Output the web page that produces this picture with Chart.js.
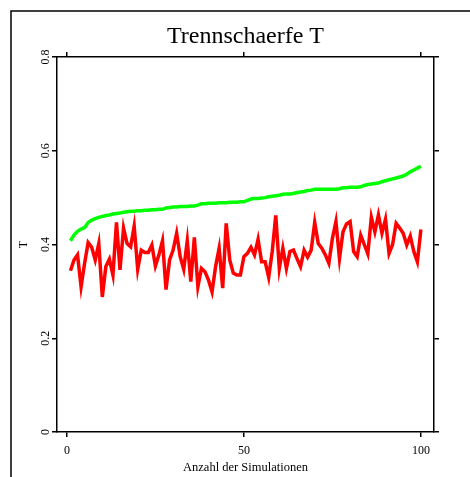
<!DOCTYPE html>
<html>
<head>
<meta charset="utf-8">
<script src="https://cdn.jsdelivr.net/npm/chart.js@4"></script>
<style>
  body{margin:0;background:#fff;}
  #wrap{width:470px;height:477px;}
</style>
</head>
<body>
<div id="wrap"><canvas id="myChart" width="470" height="477"></canvas></div>
<script>
// run index 1..100
var runs=Array.from({length:100},function(_,i){return i+1;});

// upper (green) series
var greenT=[0.408,0.420,0.428,0.433,0.436,0.447,0.452,0.455,0.458,0.460,
  0.462,0.463,0.465,0.466,0.467,0.469,0.470,0.471,0.471,0.472,
  0.472,0.473,0.473,0.474,0.474,0.475,0.475,0.478,0.479,0.480,
  0.480,0.481,0.481,0.481,0.482,0.482,0.484,0.487,0.487,0.488,
  0.488,0.488,0.489,0.489,0.489,0.490,0.490,0.490,0.491,0.491,
  0.494,0.497,0.498,0.498,0.499,0.500,0.502,0.503,0.504,0.505,
  0.507,0.508,0.508,0.509,0.511,0.512,0.513,0.515,0.516,0.518,
  0.518,0.518,0.518,0.518,0.518,0.518,0.519,0.521,0.521,0.522,
  0.522,0.522,0.523,0.526,0.528,0.529,0.530,0.531,0.534,0.536,
  0.538,0.540,0.542,0.544,0.546,0.550,0.555,0.559,0.563,0.567];

// lower (red) series
var redT=[0.344,0.367,0.378,0.310,0.360,0.404,0.394,0.367,0.402,0.288,
  0.353,0.369,0.335,0.447,0.346,0.435,0.402,0.395,0.439,0.347,
  0.388,0.383,0.383,0.399,0.354,0.378,0.408,0.304,0.367,0.388,
  0.424,0.374,0.347,0.408,0.321,0.415,0.310,0.349,0.342,0.324,
  0.299,0.353,0.392,0.307,0.445,0.367,0.339,0.335,0.335,0.374,
  0.381,0.394,0.378,0.411,0.363,0.363,0.330,0.385,0.462,0.349,
  0.392,0.349,0.385,0.388,0.370,0.353,0.388,0.373,0.388,0.447,
  0.402,0.392,0.378,0.360,0.413,0.449,0.370,0.427,0.444,0.449,
  0.385,0.374,0.420,0.400,0.380,0.458,0.427,0.463,0.424,0.454,
  0.381,0.400,0.445,0.435,0.424,0.399,0.418,0.385,0.363,0.432];

var xTicks=[0,50,100];
var yTicks=[0,0.2,0.4,0.6,0.8];
var yTickLabels=['0','0.2','0.4','0.6','0.8'];

var serif="'Liberation Serif', 'Times New Roman', serif";

// outer frame (only left and top edges are inside the window)
var outerFrame={
  id:'outerFrame',
  beforeDraw:function(chart){
    var c=chart.ctx;
    c.save();
    c.strokeStyle='#000';
    c.lineWidth=1.5;
    c.beginPath();
    c.moveTo(11,477);c.lineTo(11,11);c.lineTo(470,11);
    c.stroke();
    c.restore();
  }
};

function fixTicks(list){
  return function(scale){scale.ticks=list.map(function(v){return {value:v};});};
}

var ctx=document.getElementById('myChart').getContext('2d');
var myChart=new Chart(ctx,{
  type:'line',
  data:{
    labels:runs,
    datasets:[{
      label:'obere',
      data:greenT,
      borderColor:'#00ff00',
      borderWidth:3.5,
      pointRadius:0,
      tension:0,
      fill:false
    },{
      label:'untere',
      data:redT,
      borderColor:'#ff0000',
      borderWidth:3.5,
      pointRadius:0,
      tension:0,
      fill:false
    }]
  },
  plugins:[outerFrame],
  options:{
    responsive:false,
    animation:false,
    layout:{padding:0},
    plugins:{
      legend:{display:false},
      tooltip:{enabled:false},
      title:{
        display:true,
        fullSize:false,
        text:'Trennschaerfe T',
        color:'#000',
        font:{family:serif,size:24,weight:'normal',lineHeight:1.2},
        padding:{top:22,bottom:0}
      }
    },
    scales:{
      x:{
        type:'linear',position:'bottom',min:-2.8,max:103.7,
        afterBuildTicks:fixTicks(xTicks),
        afterFit:function(s){s.height=45;},
        grid:{drawOnChartArea:false,drawTicks:true,tickLength:5,color:'#000',lineWidth:1.5},
        border:{display:true,color:'#000',width:1.5},
        ticks:{color:'#000',font:{family:serif,size:12},padding:7,maxRotation:0},
        title:{display:true,text:'Anzahl der Simulationen',color:'#000',
          font:{family:serif,size:12.5,lineHeight:1.2},padding:{top:0,bottom:2}}
      },
      x2:{
        type:'linear',position:'top',min:-2.8,max:103.7,
        afterBuildTicks:fixTicks(xTicks),
        afterFit:function(s){s.height=57-22-28.8;},
        grid:{drawOnChartArea:false,drawTicks:true,tickLength:5,color:'#000',lineWidth:1.5},
        border:{display:true,color:'#000',width:1.5},
        ticks:{display:false}
      },
      y:{
        type:'linear',position:'left',min:0,max:0.8,
        afterBuildTicks:fixTicks(yTicks),
        afterFit:function(s){s.width=57;},
        grid:{drawOnChartArea:false,drawTicks:true,tickLength:5,color:'#000',lineWidth:1.5},
        border:{display:true,color:'#000',width:1.5},
        ticks:{color:'#000',font:{family:serif,size:12},padding:-1,
          minRotation:90,maxRotation:90,crossAlign:'center',
          callback:function(v,i){return yTickLabels[i];}},
        title:{display:true,text:'T',color:'#000',
          font:{family:serif,size:12,lineHeight:1.2},padding:{top:17,bottom:0}}
      },
      y2:{
        type:'linear',position:'right',min:0,max:0.8,
        afterBuildTicks:fixTicks(yTicks),
        afterFit:function(s){s.width=36;},
        grid:{drawOnChartArea:false,drawTicks:true,tickLength:5,color:'#000',lineWidth:1.5},
        border:{display:true,color:'#000',width:1.5},
        ticks:{display:false}
      }
    }
  }
});
</script>
</body>
</html>
